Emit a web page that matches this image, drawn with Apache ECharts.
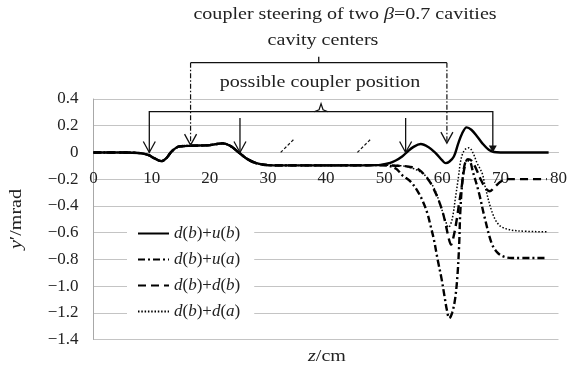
<!DOCTYPE html>
<html><head><meta charset="utf-8">
<script src="https://cdn.jsdelivr.net/npm/echarts@6/dist/echarts.min.js"></script>
<style>html,body{margin:0;padding:0;background:#fff}#c{width:570px;height:369px}</style>
</head><body><div id="c"></div>
<script>
// ---------- data ----------
const seriesNames = ['d(b)+u(b)', 'd(b)+u(a)', 'd(b)+d(b)', 'd(b)+d(a)'];
const xTicks = [0, 10, 20, 30, 40, 50, 60, 70, 80];
const yTicks = [-1.4, -1.2, -1.0, -0.8, -0.6, -0.4, -0.2, 0, 0.2, 0.4];

// first cavity region: all four cases coincide
const sharedFirstCavity = [[0,0],[5,0],[8,-0.005],[9.5,-0.02],[10.5,-0.045],[11.7,-0.065],[12.5,-0.045],[13.5,0.01],[14.8,0.045],[17,0.05],[20,0.055],[22.2,0.068],[23.5,0.05],[25,0],[26.5,-0.05],[28,-0.08],[30,-0.095],[32,-0.097],[40,-0.097],[49,-0.095]];

const dbub = [[50.9,-0.08],[52,-0.06],[53.1,-0.03],[54,0.005],[55,0.04],[56.3,0.063],[57.6,0.04],[58.9,-0.007],[60,-0.06],[60.6,-0.08],[61.2,-0.07],[62,-0.03],[62.7,0.06],[63.4,0.14],[64.2,0.188],[65,0.17],[66,0.12],[66.9,0.068],[68,0.02],[68.9,0.003],[70,0],[78.3,0]];
const dbua = [[50.5,-0.097],[51.5,-0.11],[52.3,-0.13],[53.1,-0.17],[54.6,-0.22],[55.9,-0.3],[56.6,-0.36],[57.4,-0.45],[58,-0.55],[58.6,-0.66],[59.2,-0.8],[59.9,-0.95],[60.4,-1.08],[60.8,-1.18],[61.2,-1.24],[61.7,-1.2],[62.2,-1.1],[62.6,-0.93],[62.9,-0.7],[63.1,-0.45],[63.5,-0.2],[64,-0.07],[64.6,-0.06],[65.3,-0.15],[66.3,-0.3],[67.2,-0.47],[68.5,-0.68],[69.5,-0.75],[70.6,-0.78],[72,-0.79],[77.7,-0.79]];
const dbdb = [[51,-0.097],[52.5,-0.1],[54.3,-0.107],[56,-0.13],[57.7,-0.21],[58.6,-0.28],[59.4,-0.36],[60.1,-0.45],[60.6,-0.54],[61.1,-0.64],[61.5,-0.69],[62,-0.62],[62.5,-0.5],[62.9,-0.38],[63.3,-0.27],[63.8,-0.12],[64.4,-0.05],[65,-0.06],[65.8,-0.12],[66.6,-0.2],[67.5,-0.27],[68.2,-0.29],[69,-0.26],[70,-0.22],[71,-0.2],[78,-0.2]];
const dbda = [[51,-0.097],[53,-0.1],[55,-0.12],[57,-0.17],[58.5,-0.26],[59.5,-0.37],[60.4,-0.49],[61.1,-0.56],[61.7,-0.5],[62.3,-0.33],[62.8,-0.18],[63.1,-0.08],[63.5,-0.01],[64,0.025],[64.6,0.035],[65.2,0.005],[66,-0.08],[66.9,-0.16],[67.4,-0.26],[68.6,-0.45],[69.7,-0.54],[70.9,-0.57],[73,-0.587],[78,-0.594]];

// annotation anchors (data coordinates)
const cavityCenterZ = [16.7, 60.8];
const cavityArrowTipV = [0.055, 0.07];
const couplerRangeZ = [9.6, 68.7];
const couplerMarkZ = [25.2, 53.7];
const breakMarks = [[[32.2,0],[34.5,0.1]], [[45.4,0],[47.7,0.1]]];

// ---------- chart ----------
const FONT = '"Liberation Serif","Times New Roman",serif';
const chart = echarts.init(document.getElementById('c'), null, {renderer: 'canvas'});
const lineStyles = [
  {color:'#000', width:2.4, type:'solid'},
  {color:'#000', width:2.4, type:[7,3,2,3]},
  {color:'#000', width:2.4, type:[8,5]},
  {color:'#000', width:1.5, type:[1.5,1.8]}
];
const curveData = [dbub, dbua, dbdb, dbda].map(d => sharedFirstCavity.concat(d));

function legendFmt(name){ return name.replace(/([a-z])/g, '{i|$1}'); }

const GRID = {left: 93.5, right: 10, top: 99, bottom: 29.5};
const plotH = 369 - GRID.top - GRID.bottom;
const yMin = yTicks[0], yMax = yTicks[yTicks.length-1];
const zeroOffset = -plotH * (0 - yMin) / (yMax - yMin);

chart.setOption({
  animation: false,
  backgroundColor: '#fff',
  color: ['#000','#000','#000','#000'],
  grid: GRID,
  xAxis: {
    type: 'value', min: xTicks[0], max: xTicks[xTicks.length-1], interval: 10,
    offset: zeroOffset,
    axisLine: {onZero: false, lineStyle: {color: '#c4c4c4', width: 1}},
    axisTick: {show: false},
    splitLine: {show: false},
    axisLabel: {margin: 18, color: '#222', fontFamily: FONT, fontSize: 17}
  },
  yAxis: {
    type: 'value', min: yMin, max: yMax, interval: 0.2,
    axisLine: {show: true, lineStyle: {color: '#a8a8a8', width: 1}},
    axisTick: {show: false},
    splitLine: {show: true, lineStyle: {color: '#c4c4c4', width: 1}},
    axisLabel: {margin: 15, color: '#222', fontFamily: FONT, fontSize: 17,
      formatter: v => Math.abs(v) < 1e-9 ? '0' : (v < 0 ? '\u2212' : '') + Math.abs(v).toFixed(1)}
  },
  legend: {
    orient: 'vertical', left: 127, top: 222, itemWidth: 31, itemHeight: 14, itemGap: 9,
    backgroundColor: '#fff', padding: [3, 14, 3, 10],
    data: seriesNames,
    itemStyle: {opacity: 0},
    formatter: legendFmt,
    textStyle: {color: '#222', fontFamily: FONT, fontSize: 17,
      rich: {i: {fontStyle: 'italic', fontFamily: FONT, fontSize: 17, color: '#222'}}}
  },
  series: seriesNames.map((n, i) => ({
    name: n, type: 'line', data: curveData[i], showSymbol: false, symbol: 'none',
    smooth: 0.35, lineStyle: lineStyles[i], itemStyle: {color: '#000'}, z: 10 - i, clip: false
  })).reverse()
});

// ---------- annotations ----------
function P(z, v){ return chart.convertToPixel({gridIndex: 0}, [z, v]); }
const g = [];
const K = '#111';
function line(pts, w, dash){ g.push({type:'polyline', silent:true, shape:{points:pts}, style:{stroke:K, lineWidth:w, fill:null, lineDash:dash||null}, z:50}); }
function vhead(p){ line([[p[0]-6,p[1]-11],[p[0],p[1]],[p[0]+6,p[1]-11]], 1.3); }
function text(t, x, y, rich){ g.push({type:'text', x:x, y:y, scaleX:1.18, silent:true, z:50,
  style:{text:t, fill:'#222', font:'17px ' + FONT, align:'center', verticalAlign:'middle', rich: rich||undefined}}); }

// cavity centers bracket
const cavTop = P(0, 0.672)[1];
const cL = P(cavityCenterZ[0], 0), cR = P(cavityCenterZ[1], 0);
line([[cL[0], cavTop], [cR[0], cavTop]], 1.3);
const cMid = (cL[0] + cR[0]) / 2;
line([[cMid, cavTop], [cMid, cavTop - 6]], 1.3);
cavityCenterZ.forEach((z, i) => {
  const tip = P(z, cavityArrowTipV[i]);
  line([[tip[0], cavTop], [tip[0], tip[1]]], 1.2, [5,2,1.5,2]);
  vhead(tip);
});
// coupler position bracket
const cpTop = P(0, 0.305)[1];
const pL = P(couplerRangeZ[0], 0), pR = P(couplerRangeZ[1], 0);
line([[pL[0], pL[1]], [pL[0], cpTop], [pR[0], cpTop], [pR[0], pR[1]]], 1.3);
vhead(pL);
g.push({type:'polygon', silent:true, z:50, shape:{points:[[pR[0]-4,pR[1]-7],[pR[0]+4,pR[1]-7],[pR[0],pR[1]]]}, style:{fill:K}});
const pMid = (pL[0] + pR[0]) / 2;
line([[pMid-7, cpTop], [pMid-2, cpTop-2], [pMid, cpTop-8], [pMid+2, cpTop-2], [pMid+7, cpTop]], 1.2);
couplerMarkZ.forEach(z => {
  const tip = P(z, 0), top = P(z, 0.258);
  line([[tip[0], top[1]], tip], 1.3);
  vhead(tip);
});
breakMarks.forEach(b => line([P(b[0][0], b[0][1]), P(b[1][0], b[1][1])], 1.2, [3,2]));

// texts
const rich = {i:{fontStyle:'italic', font:'italic 17px ' + FONT, fill:'#222'}};
text('coupler steering of two {i|\u03b2}=0.7 cavities', 345, 15, rich);
text('cavity centers', 323, 41);
text('possible coupler position', 320, 83);
text('{i|z}/cm', 327, 357, rich);
g.push({type:'text', x:17, y:219, rotation:Math.PI/2, scaleX:1.18, silent:true, z:50,
  style:{text:'{i|y}\u2032/mrad', fill:'#222', font:'17px ' + FONT, align:'center', verticalAlign:'middle', rich:rich}});
chart.setOption({graphic: g});
</script></body></html>
